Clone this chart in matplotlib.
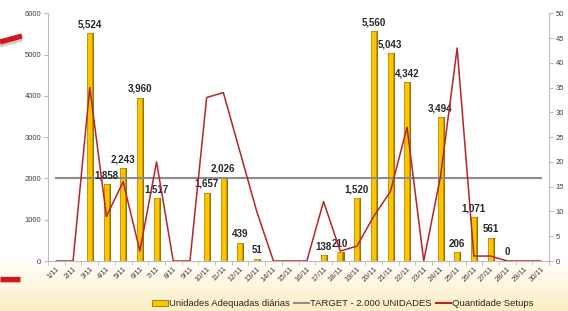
import numpy as np
import matplotlib
matplotlib.use("Agg")
import matplotlib.pyplot as plt
from matplotlib.lines import Line2D
from matplotlib.patches import Patch
from matplotlib.colors import LinearSegmentedColormap

plt.rcParams['font.family'] = ['Liberation Sans', 'DejaVu Sans']

days = [f"{d}/11" for d in range(1, 31)]
unidades = [None, None, 5524, 1858, 2243, 3960, 1517, None, None, 1657,
            2026, 439, 51, None, None, None, 138, 210, 1520, 5560,
            5043, 4342, None, 3494, 206, 1071, 561, 0, None, None]
target = [2000] * 30
setups = [0, 0, 35, 9, 16, 2, 20, 0, 0, 33,
          34, 22, 10, 0, 0, 0, 12, 2, 3, 9,
          14, 27, 0, 17, 43, 1, 1, 0, 0, 0]

W, H = 568, 311
fig = plt.figure(figsize=(W / 100, H / 100), dpi=100)

# background gradient
bg = fig.add_axes([0, 0, 1, 1], zorder=-10)
grad = np.ones((H, 1))
yy = np.arange(H)
grad[:, 0] = np.clip((yy - 255) / (H - 255), 0, 1)
cmap = LinearSegmentedColormap.from_list("bg", ["#FFFFFF", "#FCEEC2"])
bg.imshow(grad, aspect='auto', cmap=cmap, extent=[0, W, H, 0], vmin=0, vmax=1)
bg.set_xlim(0, W)
bg.set_ylim(H, 0)
bg.axis('off')

# decorative red strokes
bg.plot([0, 22], [45, 39], color="#9A9A9A", lw=3.5, alpha=0.5, solid_capstyle='butt')
bg.plot([0, 22], [42, 36], color="#D7141E", lw=3.8, solid_capstyle='butt')
bg.plot([0, 20], [281, 281], color="#9A9A9A", lw=3, alpha=0.4, solid_capstyle='butt')
bg.plot([0, 20], [279, 279], color="#D7141E", lw=3.8, solid_capstyle='butt')

ax = fig.add_axes([48 / W, 1 - 261 / H, (549 - 48) / W, (261 - 13.3) / H])
ax.set_facecolor("white")
x = np.arange(30)

vals = np.array([np.nan if v is None else v for v in unidades], dtype=float)
# 3D-ish bar: dark side + gold front
ax.bar(x + 0.05, vals, width=0.42, color="#8E7412", zorder=2)
ax.bar(x - 0.02, vals, width=0.30, color="#FFC400", edgecolor="#C99A00",
       linewidth=0.4, zorder=3)
for i, v in enumerate(unidades):
    if v is not None:
        ax.text(i, v + 90, f"{v:,}", ha='center', va='bottom', fontsize=7,
                fontweight='bold', color='#262626', zorder=6)

ax.plot(x, target, color="#8C8C8C", lw=1.5, zorder=4)

ax.set_xlim(-0.5, 29.5)
ax.set_ylim(0, 6000)
ax.set_yticks(range(0, 6001, 1000))
ax.set_yticklabels([str(v) for v in range(0, 6001, 1000)], fontsize=5.5, color='#404040')
ax.set_xticks(x)
ax.set_xticklabels(days, rotation=45, ha='right', rotation_mode='anchor',
                   fontsize=5.5, color='#404040')
ax.tick_params(axis='x', length=0, pad=3)
ax.set_xticks(np.arange(-0.5, 30, 1), minor=True)
ax.tick_params(axis='x', which='minor', length=3, color='#BBBBBB')
ax.tick_params(axis='y', length=3, color='#BBBBBB', pad=2)
for s in ['top', 'right']:
    ax.spines[s].set_visible(False)
ax.spines['left'].set_color('#BBBBBB')
ax.spines['bottom'].set_color('#BBBBBB')

ax2 = ax.twinx()
ax2.plot(x, setups, color="#B5232B", lw=1.1, zorder=5)
ax2.set_ylim(0, 50)
ax2.set_yticks(range(0, 51, 5))
ax2.set_yticklabels([str(v) for v in range(0, 51, 5)], fontsize=5.5, color='#404040')
ax2.tick_params(axis='y', length=3, color='#BBBBBB', pad=2)
for s in ['top', 'left', 'bottom']:
    ax2.spines[s].set_visible(False)
ax2.spines['right'].set_color('#BBBBBB')

handles = [Patch(facecolor="#FFC400", edgecolor="#8E7412", linewidth=0.6),
           Line2D([], [], color="#8C8C8C", lw=1.5),
           Line2D([], [], color="#B5232B", lw=1.5)]
labels = ["Unidades Adequadas diárias", "TARGET - 2.000 UNIDADES", "Quantidade Setups"]
fig.legend(handles, labels, loc='center', bbox_to_anchor=(343 / W, 1 - 304 / H),
           ncol=3, frameon=False, fontsize=6.8, handlelength=1.6, handleheight=0.5,
           handletextpad=0.15, columnspacing=0.4, labelcolor='#262626')

fig.savefig("out.png", dpi=100)
